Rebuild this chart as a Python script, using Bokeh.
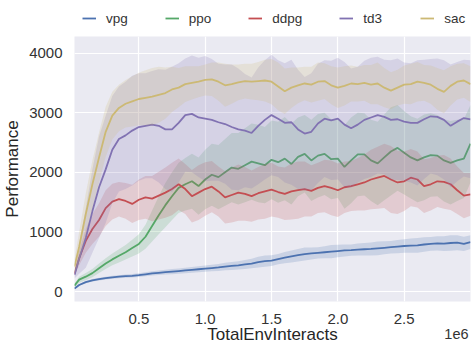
from bokeh.plotting import figure
from bokeh.layouts import column
from bokeh.models import (ColumnDataSource, Legend, LegendItem, Range1d, FixedTicker, Label,
                          NumeralTickFormatter)
from bokeh.embed import file_html
from bokeh.resources import INLINE

# x positions in environment interactions
steps = [15000] + [50000 * i for i in range(1, 61)]

vpg = [50, 110, 160, 190, 210, 225, 240, 250, 260, 265, 275, 290, 305, 315, 325, 335, 345, 355, 365, 375,
       385, 395, 405, 420, 430, 440, 455, 470, 495, 510, 520, 545, 570, 590, 610, 630, 640, 650, 660, 670,
       680, 690, 695, 705, 710, 715, 725, 735, 745, 755, 765, 770, 775, 790, 800, 810, 805, 815, 820, 800, 830]
vpg_sd = [10, 15, 18, 20, 22, 24, 25, 26, 28, 30, 32, 34, 36, 38, 40, 42, 44, 46, 48, 50,
          52, 55, 58, 62, 66, 70, 75, 80, 90, 95, 90, 85, 95, 100, 105, 110, 100, 95, 100, 110,
          105, 100, 95, 100, 105, 110, 115, 110, 105, 110, 115, 120, 125, 120, 115, 120, 125, 130, 125, 120, 115]

ppo = [100, 200, 250, 310, 390, 470, 540, 600, 660, 730, 800, 920, 1100, 1280, 1450, 1600, 1740, 1800, 1850, 1770,
       1880, 1960, 1920, 2000, 2080, 2060, 2120, 2180, 2150, 2120, 2210, 2170, 2230, 2140, 2260, 2310, 2200, 2280, 2310, 2220,
       2230, 2090, 2200, 2300, 2300, 2200, 2150, 2250, 2350, 2410, 2330, 2250, 2200, 2250, 2290, 2280, 2200, 2160, 2200, 2230, 2480]
ppo_sd = [30, 50, 60, 70, 80, 90, 100, 110, 120, 140, 160, 200, 260, 320, 370, 400, 420, 440, 460, 480,
          500, 520, 540, 560, 580, 600, 620, 640, 650, 640, 660, 680, 700, 680, 660, 650, 680, 700, 690, 670,
          660, 700, 720, 700, 690, 680, 700, 720, 740, 720, 700, 690, 700, 720, 700, 680, 690, 700, 680, 660, 650]

ddpg = [300, 560, 850, 1050, 1200, 1400, 1510, 1550, 1520, 1470, 1540, 1580, 1560, 1610, 1660, 1720, 1800, 1720, 1600, 1660,
        1720, 1760, 1680, 1580, 1620, 1660, 1640, 1600, 1650, 1680, 1710, 1670, 1640, 1680, 1700, 1720, 1690, 1740, 1770, 1740,
        1700, 1750, 1770, 1800, 1830, 1880, 1910, 1940, 1880, 1830, 1850, 1910, 1880, 1770, 1800, 1850, 1840, 1800, 1700, 1610, 1630]
ddpg_sd = [40, 120, 200, 250, 280, 300, 300, 290, 300, 320, 340, 360, 380, 400, 420, 440, 430, 420, 440, 460,
           450, 430, 420, 440, 460, 470, 450, 430, 440, 460, 450, 430, 440, 470, 480, 460, 430, 420, 440, 460,
           450, 430, 420, 440, 470, 500, 520, 540, 560, 530, 500, 480, 470, 450, 440, 430, 450, 430, 400, 380, 360]

td3 = [280, 550, 900, 1350, 1750, 2050, 2380, 2560, 2620, 2700, 2760, 2780, 2800, 2780, 2720, 2720, 2830, 2960, 2980, 2920,
       2900, 2880, 2840, 2810, 2760, 2720, 2700, 2660, 2780, 2880, 2960, 2900, 2830, 2840, 2720, 2650, 2680, 2820, 2900, 2870,
       2900, 2800, 2740, 2800, 2880, 2920, 2960, 2930, 2880, 2890, 2850, 2830, 2830, 2890, 2940, 2930, 2880, 2780, 2850, 2910, 2890]
td3_sd = [60, 250, 500, 700, 850, 900, 900, 880, 900, 920, 900, 880, 900, 950, 1000, 1050, 1000, 950, 980, 1000,
          1050, 1020, 980, 1000, 1050, 1020, 950, 930, 980, 1000, 1010, 980, 1000, 1050, 1000, 950, 980, 1000, 980, 1000,
          1020, 1050, 1000, 970, 990, 1000, 980, 960, 1000, 1020, 990, 1000, 1050, 1000, 960, 980, 1000, 1030, 1000, 980, 990]

sac = [420, 750, 1300, 1800, 2250, 2680, 2950, 3080, 3150, 3190, 3230, 3250, 3270, 3300, 3330, 3390, 3420, 3480, 3500, 3520,
       3550, 3560, 3520, 3460, 3480, 3510, 3530, 3520, 3530, 3540, 3520, 3440, 3360, 3420, 3460, 3490, 3470, 3520, 3530, 3460,
       3420, 3450, 3490, 3480, 3500, 3470, 3490, 3420, 3370, 3420, 3470, 3480, 3520, 3500, 3470, 3400, 3350, 3450, 3520, 3540, 3480]
sac_sd = [120, 250, 350, 400, 420, 420, 400, 390, 400, 420, 440, 460, 480, 470, 430, 380, 330, 300, 280, 260,
          260, 280, 320, 360, 330, 300, 290, 300, 320, 350, 380, 400, 380, 340, 300, 280, 300, 320, 300, 320,
          340, 330, 300, 290, 300, 330, 350, 330, 310, 300, 320, 340, 330, 300, 320, 350, 360, 330, 300, 290, 300]

names = ["vpg", "ppo", "ddpg", "td3", "sac"]
colors = ["#4C72B0", "#55A868", "#C44E52", "#8172B2", "#CCB974"]
series = [(vpg, vpg_sd), (ppo, ppo_sd), (ddpg, ddpg_sd), (td3, td3_sd), (sac, sac_sd)]
x_ticks = [0.5, 1.0, 1.5, 2.0, 2.5]
y_ticks = [0, 1000, 2000, 3000, 4000]

FONT = "Liberation Sans"
TXT = "#333333"
xs = [s / 1e6 for s in steps]


def strip(h, xr, yr):
    fig = figure(width=472, height=h, output_backend="svg", toolbar_location=None,
                 x_range=xr, y_range=yr, min_border=0,
                 x_axis_location=None, y_axis_location=None)
    fig.grid.visible = False
    fig.outline_line_color = None
    fig.background_fill_color = "white"
    fig.border_fill_color = "white"
    return fig


# ---- legend strip (the series lines lie outside its visible range) ----
leg = strip(36, Range1d(72, 470), Range1d(-20, -10))
leg_items = []
for name, color, (m, sd) in zip(names, colors, series):
    r = leg.line(x=xs, y=m, line_color=color, line_width=1.8)
    leg_items.append(LegendItem(label=name, renderers=[r]))
legend = Legend(items=leg_items, orientation="horizontal", location=(0, 0),
                padding=8, margin=0, spacing=37, glyph_width=14, glyph_height=20,
                label_height=20, label_standoff=10, label_text_font=FONT,
                label_text_font_size="13.5px", label_text_color=TXT,
                border_line_alpha=0, background_fill_alpha=0)
leg.add_layout(legend, "center")

# ---- main plot ----
p = figure(width=472, height=290, output_backend="svg", toolbar_location=None,
           x_range=Range1d(0.015, 3.0), y_range=Range1d(-166, 4278),
           min_border_left=72, min_border_right=2, min_border_top=0, min_border_bottom=23)
p.background_fill_color = "#EAEAF2"
p.border_fill_color = "white"
p.outline_line_color = None

for name, color, (m, sd) in zip(names, colors, series):
    src = ColumnDataSource(dict(x=xs, y=m,
                                lo=[a - b for a, b in zip(m, sd)],
                                hi=[a + b for a, b in zip(m, sd)]))
    p.varea(x="x", y1="lo", y2="hi", source=src, fill_color=color, fill_alpha=0.2)
    p.line(x="x", y="y", source=src, line_color=color, line_width=1.8)

for g in (p.xgrid, p.ygrid):
    g.grid_line_color = "white"
    g.grid_line_width = 1.2

p.xaxis.ticker = FixedTicker(ticks=x_ticks)
p.xaxis.formatter = NumeralTickFormatter(format="0.0")
p.yaxis.ticker = FixedTicker(ticks=y_ticks)
p.yaxis.axis_label = "Performance"
for ax in (p.xaxis, p.yaxis):
    ax.axis_line_color = None
    ax.major_tick_line_color = None
    ax.minor_tick_line_color = None
    ax.major_label_text_font = FONT
    ax.major_label_text_font_size = "15px"
    ax.major_label_text_color = TXT
    ax.axis_label_text_font = FONT
    ax.axis_label_text_font_size = "17px"
    ax.axis_label_text_font_style = "normal"
    ax.axis_label_text_color = "#262626"
p.xaxis.major_label_standoff = 6
p.yaxis.major_label_standoff = 6
p.yaxis.axis_label_standoff = 4

# ---- x-axis title strip (x in screen pixels of the main frame) ----
bot = strip(21, Range1d(72, 470), Range1d(0, 21))
bot.add_layout(Label(x=271, y=13, text="TotalEnvInteracts", text_align="center",
                     text_baseline="alphabetic", text_font=FONT, text_font_size="17px",
                     text_color="#262626"))
bot.add_layout(Label(x=468, y=14, text="1e6", text_align="right",
                     text_baseline="alphabetic", text_font=FONT, text_font_size="14.5px",
                     text_color=TXT))

layout = column(leg, p, bot, spacing=0)
open("out.html", "w").write(file_html(layout, INLINE))
